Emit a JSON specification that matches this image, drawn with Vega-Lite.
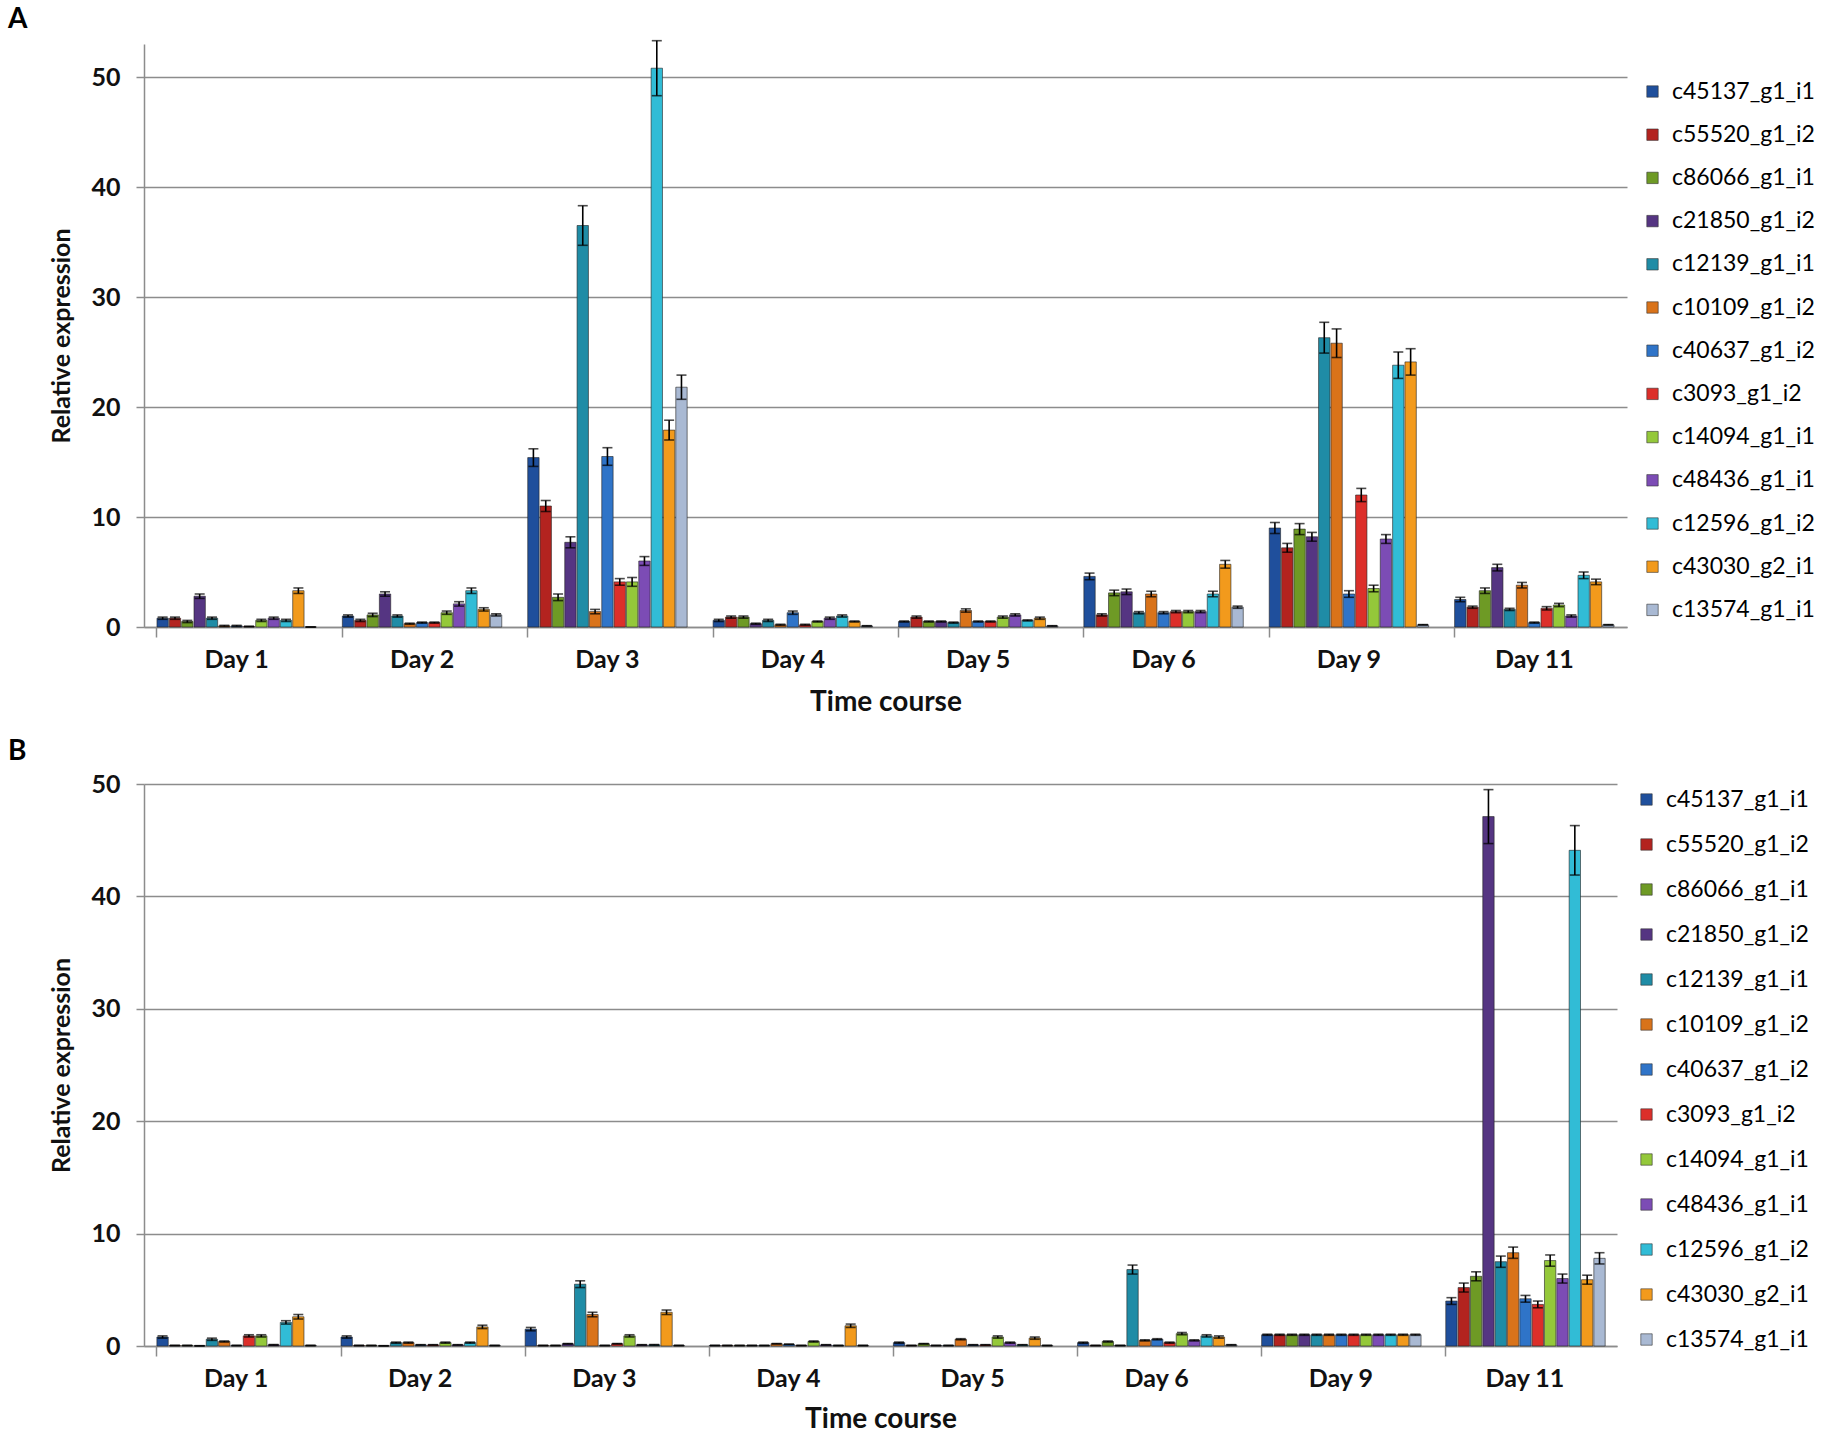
{
  "$schema": "https://vega.github.io/schema/vega-lite/v6.json",
  "background": "white",
  "padding": {"left": 7, "top": 5, "right": 0, "bottom": 5},
  "config": {
    "font": "Lato",
    "view": {"stroke": null},
    "axis": {"labelFont": "Lato", "titleFont": "Lato", "labelColor": "#111", "titleColor": "#111"},
    "legend": {"labelFont": "Lato"}
  },
  "datasets": {
    "A": [
      {"d": "Day 1", "g": "c45137_g1_i1", "v": 0.8, "e": 0.1},
      {"d": "Day 1", "g": "c55520_g1_i2", "v": 0.8, "e": 0.1},
      {"d": "Day 1", "g": "c86066_g1_i1", "v": 0.5, "e": 0.1},
      {"d": "Day 1", "g": "c21850_g1_i2", "v": 2.8, "e": 0.2},
      {"d": "Day 1", "g": "c12139_g1_i1", "v": 0.8, "e": 0.1},
      {"d": "Day 1", "g": "c10109_g1_i2", "v": 0.1, "e": 0.05},
      {"d": "Day 1", "g": "c40637_g1_i2", "v": 0.1, "e": 0.05},
      {"d": "Day 1", "g": "c3093_g1_i2", "v": 0.05, "e": 0.02},
      {"d": "Day 1", "g": "c14094_g1_i1", "v": 0.6, "e": 0.1},
      {"d": "Day 1", "g": "c48436_g1_i1", "v": 0.8, "e": 0.1},
      {"d": "Day 1", "g": "c12596_g1_i2", "v": 0.6, "e": 0.1},
      {"d": "Day 1", "g": "c43030_g2_i1", "v": 3.3, "e": 0.25},
      {"d": "Day 1", "g": "c13574_g1_i1", "v": 0, "e": 0},
      {"d": "Day 2", "g": "c45137_g1_i1", "v": 1.0, "e": 0.1},
      {"d": "Day 2", "g": "c55520_g1_i2", "v": 0.6, "e": 0.1},
      {"d": "Day 2", "g": "c86066_g1_i1", "v": 1.1, "e": 0.15},
      {"d": "Day 2", "g": "c21850_g1_i2", "v": 3.0, "e": 0.2},
      {"d": "Day 2", "g": "c12139_g1_i1", "v": 1.0, "e": 0.1},
      {"d": "Day 2", "g": "c10109_g1_i2", "v": 0.3, "e": 0.05},
      {"d": "Day 2", "g": "c40637_g1_i2", "v": 0.4, "e": 0.05},
      {"d": "Day 2", "g": "c3093_g1_i2", "v": 0.4, "e": 0.05},
      {"d": "Day 2", "g": "c14094_g1_i1", "v": 1.3, "e": 0.15},
      {"d": "Day 2", "g": "c48436_g1_i1", "v": 2.1, "e": 0.2},
      {"d": "Day 2", "g": "c12596_g1_i2", "v": 3.3, "e": 0.25},
      {"d": "Day 2", "g": "c43030_g2_i1", "v": 1.6, "e": 0.15},
      {"d": "Day 2", "g": "c13574_g1_i1", "v": 1.1, "e": 0.1},
      {"d": "Day 3", "g": "c45137_g1_i1", "v": 15.4, "e": 0.8},
      {"d": "Day 3", "g": "c55520_g1_i2", "v": 11.0, "e": 0.5},
      {"d": "Day 3", "g": "c86066_g1_i1", "v": 2.7, "e": 0.3},
      {"d": "Day 3", "g": "c21850_g1_i2", "v": 7.7, "e": 0.5},
      {"d": "Day 3", "g": "c12139_g1_i1", "v": 36.5, "e": 1.8},
      {"d": "Day 3", "g": "c10109_g1_i2", "v": 1.4, "e": 0.2},
      {"d": "Day 3", "g": "c40637_g1_i2", "v": 15.5, "e": 0.8},
      {"d": "Day 3", "g": "c3093_g1_i2", "v": 4.1, "e": 0.3},
      {"d": "Day 3", "g": "c14094_g1_i1", "v": 4.1, "e": 0.4},
      {"d": "Day 3", "g": "c48436_g1_i1", "v": 6.0, "e": 0.4},
      {"d": "Day 3", "g": "c12596_g1_i2", "v": 50.8, "e": 2.5},
      {"d": "Day 3", "g": "c43030_g2_i1", "v": 17.9, "e": 0.9},
      {"d": "Day 3", "g": "c13574_g1_i1", "v": 21.8, "e": 1.1},
      {"d": "Day 4", "g": "c45137_g1_i1", "v": 0.6, "e": 0.1},
      {"d": "Day 4", "g": "c55520_g1_i2", "v": 0.9, "e": 0.1},
      {"d": "Day 4", "g": "c86066_g1_i1", "v": 0.9, "e": 0.1},
      {"d": "Day 4", "g": "c21850_g1_i2", "v": 0.3, "e": 0.05},
      {"d": "Day 4", "g": "c12139_g1_i1", "v": 0.6, "e": 0.1},
      {"d": "Day 4", "g": "c10109_g1_i2", "v": 0.2, "e": 0.05},
      {"d": "Day 4", "g": "c40637_g1_i2", "v": 1.3, "e": 0.15},
      {"d": "Day 4", "g": "c3093_g1_i2", "v": 0.2, "e": 0.05},
      {"d": "Day 4", "g": "c14094_g1_i1", "v": 0.5, "e": 0.05},
      {"d": "Day 4", "g": "c48436_g1_i1", "v": 0.8, "e": 0.1},
      {"d": "Day 4", "g": "c12596_g1_i2", "v": 1.0, "e": 0.1},
      {"d": "Day 4", "g": "c43030_g2_i1", "v": 0.5, "e": 0.05},
      {"d": "Day 4", "g": "c13574_g1_i1", "v": 0.1, "e": 0.02},
      {"d": "Day 5", "g": "c45137_g1_i1", "v": 0.5, "e": 0.05},
      {"d": "Day 5", "g": "c55520_g1_i2", "v": 0.9, "e": 0.1},
      {"d": "Day 5", "g": "c86066_g1_i1", "v": 0.5, "e": 0.05},
      {"d": "Day 5", "g": "c21850_g1_i2", "v": 0.5, "e": 0.05},
      {"d": "Day 5", "g": "c12139_g1_i1", "v": 0.4, "e": 0.05},
      {"d": "Day 5", "g": "c10109_g1_i2", "v": 1.5, "e": 0.15},
      {"d": "Day 5", "g": "c40637_g1_i2", "v": 0.5, "e": 0.05},
      {"d": "Day 5", "g": "c3093_g1_i2", "v": 0.5, "e": 0.05},
      {"d": "Day 5", "g": "c14094_g1_i1", "v": 0.9, "e": 0.1},
      {"d": "Day 5", "g": "c48436_g1_i1", "v": 1.1, "e": 0.1},
      {"d": "Day 5", "g": "c12596_g1_i2", "v": 0.6, "e": 0.05},
      {"d": "Day 5", "g": "c43030_g2_i1", "v": 0.8, "e": 0.1},
      {"d": "Day 5", "g": "c13574_g1_i1", "v": 0.1, "e": 0.02},
      {"d": "Day 6", "g": "c45137_g1_i1", "v": 4.6, "e": 0.3},
      {"d": "Day 6", "g": "c55520_g1_i2", "v": 1.1, "e": 0.1},
      {"d": "Day 6", "g": "c86066_g1_i1", "v": 3.1, "e": 0.25},
      {"d": "Day 6", "g": "c21850_g1_i2", "v": 3.2, "e": 0.25},
      {"d": "Day 6", "g": "c12139_g1_i1", "v": 1.3, "e": 0.1},
      {"d": "Day 6", "g": "c10109_g1_i2", "v": 3.0, "e": 0.25},
      {"d": "Day 6", "g": "c40637_g1_i2", "v": 1.3, "e": 0.1},
      {"d": "Day 6", "g": "c3093_g1_i2", "v": 1.4, "e": 0.1},
      {"d": "Day 6", "g": "c14094_g1_i1", "v": 1.4, "e": 0.1},
      {"d": "Day 6", "g": "c48436_g1_i1", "v": 1.4, "e": 0.1},
      {"d": "Day 6", "g": "c12596_g1_i2", "v": 3.0, "e": 0.25},
      {"d": "Day 6", "g": "c43030_g2_i1", "v": 5.7, "e": 0.35},
      {"d": "Day 6", "g": "c13574_g1_i1", "v": 1.8, "e": 0.1},
      {"d": "Day 9", "g": "c45137_g1_i1", "v": 9.0, "e": 0.5},
      {"d": "Day 9", "g": "c55520_g1_i2", "v": 7.2, "e": 0.4},
      {"d": "Day 9", "g": "c86066_g1_i1", "v": 8.9, "e": 0.5},
      {"d": "Day 9", "g": "c21850_g1_i2", "v": 8.2, "e": 0.4},
      {"d": "Day 9", "g": "c12139_g1_i1", "v": 26.3, "e": 1.4},
      {"d": "Day 9", "g": "c10109_g1_i2", "v": 25.8, "e": 1.3},
      {"d": "Day 9", "g": "c40637_g1_i2", "v": 3.0, "e": 0.3},
      {"d": "Day 9", "g": "c3093_g1_i2", "v": 12.0, "e": 0.6},
      {"d": "Day 9", "g": "c14094_g1_i1", "v": 3.5, "e": 0.3},
      {"d": "Day 9", "g": "c48436_g1_i1", "v": 8.0, "e": 0.4},
      {"d": "Day 9", "g": "c12596_g1_i2", "v": 23.8, "e": 1.2},
      {"d": "Day 9", "g": "c43030_g2_i1", "v": 24.1, "e": 1.2},
      {"d": "Day 9", "g": "c13574_g1_i1", "v": 0.2, "e": 0.02},
      {"d": "Day 11", "g": "c45137_g1_i1", "v": 2.5, "e": 0.2},
      {"d": "Day 11", "g": "c55520_g1_i2", "v": 1.8, "e": 0.1},
      {"d": "Day 11", "g": "c86066_g1_i1", "v": 3.3, "e": 0.25},
      {"d": "Day 11", "g": "c21850_g1_i2", "v": 5.4, "e": 0.3},
      {"d": "Day 11", "g": "c12139_g1_i1", "v": 1.6, "e": 0.1},
      {"d": "Day 11", "g": "c10109_g1_i2", "v": 3.8, "e": 0.25},
      {"d": "Day 11", "g": "c40637_g1_i2", "v": 0.4, "e": 0.05},
      {"d": "Day 11", "g": "c3093_g1_i2", "v": 1.7, "e": 0.15},
      {"d": "Day 11", "g": "c14094_g1_i1", "v": 2.0, "e": 0.15},
      {"d": "Day 11", "g": "c48436_g1_i1", "v": 1.0, "e": 0.1},
      {"d": "Day 11", "g": "c12596_g1_i2", "v": 4.7, "e": 0.3},
      {"d": "Day 11", "g": "c43030_g2_i1", "v": 4.1, "e": 0.25},
      {"d": "Day 11", "g": "c13574_g1_i1", "v": 0.2, "e": 0.02}
    ],
    "B": [
      {"d": "Day 1", "g": "c45137_g1_i1", "v": 0.8, "e": 0.1},
      {"d": "Day 1", "g": "c55520_g1_i2", "v": 0.05, "e": 0.01},
      {"d": "Day 1", "g": "c86066_g1_i1", "v": 0.05, "e": 0.01},
      {"d": "Day 1", "g": "c21850_g1_i2", "v": 0.02, "e": 0.01},
      {"d": "Day 1", "g": "c12139_g1_i1", "v": 0.6, "e": 0.1},
      {"d": "Day 1", "g": "c10109_g1_i2", "v": 0.4, "e": 0.05},
      {"d": "Day 1", "g": "c40637_g1_i2", "v": 0.05, "e": 0.01},
      {"d": "Day 1", "g": "c3093_g1_i2", "v": 0.9, "e": 0.1},
      {"d": "Day 1", "g": "c14094_g1_i1", "v": 0.9, "e": 0.1},
      {"d": "Day 1", "g": "c48436_g1_i1", "v": 0.1, "e": 0.02},
      {"d": "Day 1", "g": "c12596_g1_i2", "v": 2.1, "e": 0.15},
      {"d": "Day 1", "g": "c43030_g2_i1", "v": 2.6, "e": 0.2},
      {"d": "Day 1", "g": "c13574_g1_i1", "v": 0.05, "e": 0.01},
      {"d": "Day 2", "g": "c45137_g1_i1", "v": 0.8, "e": 0.1},
      {"d": "Day 2", "g": "c55520_g1_i2", "v": 0.05, "e": 0.01},
      {"d": "Day 2", "g": "c86066_g1_i1", "v": 0.05, "e": 0.01},
      {"d": "Day 2", "g": "c21850_g1_i2", "v": 0.02, "e": 0.01},
      {"d": "Day 2", "g": "c12139_g1_i1", "v": 0.3, "e": 0.05},
      {"d": "Day 2", "g": "c10109_g1_i2", "v": 0.3, "e": 0.05},
      {"d": "Day 2", "g": "c40637_g1_i2", "v": 0.1, "e": 0.02},
      {"d": "Day 2", "g": "c3093_g1_i2", "v": 0.1, "e": 0.02},
      {"d": "Day 2", "g": "c14094_g1_i1", "v": 0.3, "e": 0.05},
      {"d": "Day 2", "g": "c48436_g1_i1", "v": 0.1, "e": 0.02},
      {"d": "Day 2", "g": "c12596_g1_i2", "v": 0.3, "e": 0.05},
      {"d": "Day 2", "g": "c43030_g2_i1", "v": 1.7, "e": 0.15},
      {"d": "Day 2", "g": "c13574_g1_i1", "v": 0.05, "e": 0.01},
      {"d": "Day 3", "g": "c45137_g1_i1", "v": 1.5, "e": 0.15},
      {"d": "Day 3", "g": "c55520_g1_i2", "v": 0.05, "e": 0.01},
      {"d": "Day 3", "g": "c86066_g1_i1", "v": 0.05, "e": 0.01},
      {"d": "Day 3", "g": "c21850_g1_i2", "v": 0.2, "e": 0.02},
      {"d": "Day 3", "g": "c12139_g1_i1", "v": 5.5, "e": 0.3},
      {"d": "Day 3", "g": "c10109_g1_i2", "v": 2.8, "e": 0.2},
      {"d": "Day 3", "g": "c40637_g1_i2", "v": 0.05, "e": 0.01},
      {"d": "Day 3", "g": "c3093_g1_i2", "v": 0.2, "e": 0.02},
      {"d": "Day 3", "g": "c14094_g1_i1", "v": 0.9, "e": 0.1},
      {"d": "Day 3", "g": "c48436_g1_i1", "v": 0.1, "e": 0.02},
      {"d": "Day 3", "g": "c12596_g1_i2", "v": 0.1, "e": 0.02},
      {"d": "Day 3", "g": "c43030_g2_i1", "v": 3.0, "e": 0.2},
      {"d": "Day 3", "g": "c13574_g1_i1", "v": 0.05, "e": 0.01},
      {"d": "Day 4", "g": "c45137_g1_i1", "v": 0.05, "e": 0.01},
      {"d": "Day 4", "g": "c55520_g1_i2", "v": 0.05, "e": 0.01},
      {"d": "Day 4", "g": "c86066_g1_i1", "v": 0.05, "e": 0.01},
      {"d": "Day 4", "g": "c21850_g1_i2", "v": 0.05, "e": 0.01},
      {"d": "Day 4", "g": "c12139_g1_i1", "v": 0.05, "e": 0.01},
      {"d": "Day 4", "g": "c10109_g1_i2", "v": 0.2, "e": 0.02},
      {"d": "Day 4", "g": "c40637_g1_i2", "v": 0.15, "e": 0.02},
      {"d": "Day 4", "g": "c3093_g1_i2", "v": 0.05, "e": 0.01},
      {"d": "Day 4", "g": "c14094_g1_i1", "v": 0.4, "e": 0.05},
      {"d": "Day 4", "g": "c48436_g1_i1", "v": 0.1, "e": 0.02},
      {"d": "Day 4", "g": "c12596_g1_i2", "v": 0.05, "e": 0.01},
      {"d": "Day 4", "g": "c43030_g2_i1", "v": 1.8, "e": 0.15},
      {"d": "Day 4", "g": "c13574_g1_i1", "v": 0.05, "e": 0.01},
      {"d": "Day 5", "g": "c45137_g1_i1", "v": 0.3, "e": 0.05},
      {"d": "Day 5", "g": "c55520_g1_i2", "v": 0.05, "e": 0.01},
      {"d": "Day 5", "g": "c86066_g1_i1", "v": 0.2, "e": 0.02},
      {"d": "Day 5", "g": "c21850_g1_i2", "v": 0.05, "e": 0.01},
      {"d": "Day 5", "g": "c12139_g1_i1", "v": 0.05, "e": 0.01},
      {"d": "Day 5", "g": "c10109_g1_i2", "v": 0.6, "e": 0.05},
      {"d": "Day 5", "g": "c40637_g1_i2", "v": 0.1, "e": 0.02},
      {"d": "Day 5", "g": "c3093_g1_i2", "v": 0.1, "e": 0.02},
      {"d": "Day 5", "g": "c14094_g1_i1", "v": 0.8, "e": 0.1},
      {"d": "Day 5", "g": "c48436_g1_i1", "v": 0.3, "e": 0.05},
      {"d": "Day 5", "g": "c12596_g1_i2", "v": 0.1, "e": 0.02},
      {"d": "Day 5", "g": "c43030_g2_i1", "v": 0.7, "e": 0.1},
      {"d": "Day 5", "g": "c13574_g1_i1", "v": 0.05, "e": 0.01},
      {"d": "Day 6", "g": "c45137_g1_i1", "v": 0.3, "e": 0.05},
      {"d": "Day 6", "g": "c55520_g1_i2", "v": 0.05, "e": 0.01},
      {"d": "Day 6", "g": "c86066_g1_i1", "v": 0.4, "e": 0.05},
      {"d": "Day 6", "g": "c21850_g1_i2", "v": 0.05, "e": 0.01},
      {"d": "Day 6", "g": "c12139_g1_i1", "v": 6.8, "e": 0.4},
      {"d": "Day 6", "g": "c10109_g1_i2", "v": 0.5, "e": 0.05},
      {"d": "Day 6", "g": "c40637_g1_i2", "v": 0.6, "e": 0.05},
      {"d": "Day 6", "g": "c3093_g1_i2", "v": 0.3, "e": 0.05},
      {"d": "Day 6", "g": "c14094_g1_i1", "v": 1.1, "e": 0.1},
      {"d": "Day 6", "g": "c48436_g1_i1", "v": 0.5, "e": 0.05},
      {"d": "Day 6", "g": "c12596_g1_i2", "v": 0.9, "e": 0.1},
      {"d": "Day 6", "g": "c43030_g2_i1", "v": 0.8, "e": 0.1},
      {"d": "Day 6", "g": "c13574_g1_i1", "v": 0.1, "e": 0.02},
      {"d": "Day 9", "g": "c45137_g1_i1", "v": 1.0, "e": 0.05},
      {"d": "Day 9", "g": "c55520_g1_i2", "v": 1.0, "e": 0.05},
      {"d": "Day 9", "g": "c86066_g1_i1", "v": 1.0, "e": 0.05},
      {"d": "Day 9", "g": "c21850_g1_i2", "v": 1.0, "e": 0.05},
      {"d": "Day 9", "g": "c12139_g1_i1", "v": 1.0, "e": 0.05},
      {"d": "Day 9", "g": "c10109_g1_i2", "v": 1.0, "e": 0.05},
      {"d": "Day 9", "g": "c40637_g1_i2", "v": 1.0, "e": 0.05},
      {"d": "Day 9", "g": "c3093_g1_i2", "v": 1.0, "e": 0.05},
      {"d": "Day 9", "g": "c14094_g1_i1", "v": 1.0, "e": 0.05},
      {"d": "Day 9", "g": "c48436_g1_i1", "v": 1.0, "e": 0.05},
      {"d": "Day 9", "g": "c12596_g1_i2", "v": 1.0, "e": 0.05},
      {"d": "Day 9", "g": "c43030_g2_i1", "v": 1.0, "e": 0.05},
      {"d": "Day 9", "g": "c13574_g1_i1", "v": 1.0, "e": 0.05},
      {"d": "Day 11", "g": "c45137_g1_i1", "v": 4.0, "e": 0.3},
      {"d": "Day 11", "g": "c55520_g1_i2", "v": 5.2, "e": 0.4},
      {"d": "Day 11", "g": "c86066_g1_i1", "v": 6.2, "e": 0.4},
      {"d": "Day 11", "g": "c21850_g1_i2", "v": 47.1, "e": 2.4},
      {"d": "Day 11", "g": "c12139_g1_i1", "v": 7.5, "e": 0.5},
      {"d": "Day 11", "g": "c10109_g1_i2", "v": 8.3, "e": 0.5},
      {"d": "Day 11", "g": "c40637_g1_i2", "v": 4.2, "e": 0.3},
      {"d": "Day 11", "g": "c3093_g1_i2", "v": 3.7, "e": 0.3},
      {"d": "Day 11", "g": "c14094_g1_i1", "v": 7.6, "e": 0.5},
      {"d": "Day 11", "g": "c48436_g1_i1", "v": 6.0, "e": 0.4},
      {"d": "Day 11", "g": "c12596_g1_i2", "v": 44.1, "e": 2.2},
      {"d": "Day 11", "g": "c43030_g2_i1", "v": 5.9, "e": 0.4},
      {"d": "Day 11", "g": "c13574_g1_i1", "v": 7.8, "e": 0.5}
    ]
  },
  "vconcat": [
    {
      "title": {"text": "A", "anchor": "start", "frame": "bounds", "fontSize": 28, "fontWeight": "bold", "offset": 6, "dx": -42},
      "width": 1483,
      "height": 583,
      "data": {"name": "A"},
      "encoding": {
        "x": {
          "field": "d", "type": "nominal",
          "sort": ["Day 1", "Day 2", "Day 3", "Day 4", "Day 5", "Day 6", "Day 9", "Day 11"],
          "scale": {"paddingInner": 0.14, "paddingOuter": 0.07},
          "axis": {"title": "Time course", "labelAngle": 0, "labelFontSize": 25, "labelFontWeight": "bold", "titleFontSize": 28, "titleFontWeight": "bold", "bandPosition": 0, "tickSize": 10, "tickColor": "#8c8c8c", "tickWidth": 1.5, "domainColor": "#8c8c8c", "domainWidth": 1.5, "labelPadding": 10, "titlePadding": 16}
        },
        "xOffset": {
          "field": "g", "type": "nominal",
          "sort": ["c45137_g1_i1", "c55520_g1_i2", "c86066_g1_i1", "c21850_g1_i2", "c12139_g1_i1", "c10109_g1_i2", "c40637_g1_i2", "c3093_g1_i2", "c14094_g1_i1", "c48436_g1_i1", "c12596_g1_i2", "c43030_g2_i1", "c13574_g1_i1"],
          "scale": {"paddingInner": 0.08}
        }
      },
      "layer": [
        {
          "mark": {"type": "bar", "stroke": "#222", "strokeWidth": 0.6},
          "encoding": {
            "y": {
              "field": "v", "type": "quantitative", "title": "Relative expression",
              "scale": {"domain": [0, 53], "nice": false},
              "axis": {"values": [0, 10, 20, 30, 40, 50], "labelFontSize": 25, "labelFontWeight": "bold", "titleFontSize": 25, "titleFontWeight": "bold", "grid": true, "gridColor": "#8c8c8c", "gridWidth": 1.5, "tickSize": 8, "tickColor": "#8c8c8c", "tickWidth": 1.5, "domainColor": "#8c8c8c", "domainWidth": 1.5, "labelPadding": 16, "titlePadding": 16}
            },
            "color": {
              "field": "g", "type": "nominal",
              "scale": {
                "domain": ["c45137_g1_i1", "c55520_g1_i2", "c86066_g1_i1", "c21850_g1_i2", "c12139_g1_i1", "c10109_g1_i2", "c40637_g1_i2", "c3093_g1_i2", "c14094_g1_i1", "c48436_g1_i1", "c12596_g1_i2", "c43030_g2_i1", "c13574_g1_i1"],
                "range": ["#1f4f9c", "#b3231f", "#6e9a25", "#553582", "#1f8ca6", "#d9731a", "#2f74c8", "#dc2f2a", "#94c83a", "#7c4cb5", "#31bcd6", "#f29a1c", "#a9b9d3"]
              },
              "legend": {"title": null, "orient": "none", "legendX": 1497, "legendY": 36, "labelFontSize": 23, "symbolType": "square", "symbolSize": 130, "symbolStrokeColor": "#333", "symbolStrokeWidth": 0.6, "rowPadding": 19.2, "labelOffset": 8}
            }
          }
        },
        {
          "mark": {"type": "errorbar", "ticks": {"size": 10, "thickness": 1.6, "color": "black"}, "thickness": 1.6, "color": "black"},
          "encoding": {
            "y": {"field": "v", "type": "quantitative", "title": "Relative expression"},
            "yError": {"field": "e"}
          }
        }
      ]
    },
    {
      "title": {"text": "B", "anchor": "start", "frame": "bounds", "fontSize": 28, "fontWeight": "bold", "offset": 6, "dx": -42},
      "width": 1473,
      "height": 562,
      "data": {"name": "B"},
      "encoding": {
        "x": {
          "field": "d", "type": "nominal",
          "sort": ["Day 1", "Day 2", "Day 3", "Day 4", "Day 5", "Day 6", "Day 9", "Day 11"],
          "scale": {"paddingInner": 0.14, "paddingOuter": 0.07},
          "axis": {"title": "Time course", "labelAngle": 0, "labelFontSize": 25, "labelFontWeight": "bold", "titleFontSize": 28, "titleFontWeight": "bold", "bandPosition": 0, "tickSize": 10, "tickColor": "#8c8c8c", "tickWidth": 1.5, "domainColor": "#8c8c8c", "domainWidth": 1.5, "labelPadding": 10, "titlePadding": 14}
        },
        "xOffset": {
          "field": "g", "type": "nominal",
          "sort": ["c45137_g1_i1", "c55520_g1_i2", "c86066_g1_i1", "c21850_g1_i2", "c12139_g1_i1", "c10109_g1_i2", "c40637_g1_i2", "c3093_g1_i2", "c14094_g1_i1", "c48436_g1_i1", "c12596_g1_i2", "c43030_g2_i1", "c13574_g1_i1"],
          "scale": {"paddingInner": 0.08}
        }
      },
      "layer": [
        {
          "mark": {"type": "bar", "stroke": "#222", "strokeWidth": 0.6},
          "encoding": {
            "y": {
              "field": "v", "type": "quantitative", "title": "Relative expression",
              "scale": {"domain": [0, 50], "nice": false},
              "axis": {"values": [0, 10, 20, 30, 40, 50], "labelFontSize": 25, "labelFontWeight": "bold", "titleFontSize": 25, "titleFontWeight": "bold", "grid": true, "gridColor": "#8c8c8c", "gridWidth": 1.5, "tickSize": 8, "tickColor": "#8c8c8c", "tickWidth": 1.5, "domainColor": "#8c8c8c", "domainWidth": 1.5, "labelPadding": 16, "titlePadding": 16}
            },
            "color": {
              "field": "g", "type": "nominal",
              "scale": {
                "domain": ["c45137_g1_i1", "c55520_g1_i2", "c86066_g1_i1", "c21850_g1_i2", "c12139_g1_i1", "c10109_g1_i2", "c40637_g1_i2", "c3093_g1_i2", "c14094_g1_i1", "c48436_g1_i1", "c12596_g1_i2", "c43030_g2_i1", "c13574_g1_i1"],
                "range": ["#1f4f9c", "#b3231f", "#6e9a25", "#553582", "#1f8ca6", "#d9731a", "#2f74c8", "#dc2f2a", "#94c83a", "#7c4cb5", "#31bcd6", "#f29a1c", "#a9b9d3"]
              },
              "legend": {"title": null, "orient": "none", "legendX": 1491, "legendY": 4, "labelFontSize": 23, "symbolType": "square", "symbolSize": 130, "symbolStrokeColor": "#333", "symbolStrokeWidth": 0.6, "rowPadding": 21, "labelOffset": 8}
            }
          }
        },
        {
          "mark": {"type": "errorbar", "ticks": {"size": 10, "thickness": 1.6, "color": "black"}, "thickness": 1.6, "color": "black"},
          "encoding": {
            "y": {"field": "v", "type": "quantitative", "title": "Relative expression"},
            "yError": {"field": "e"}
          }
        }
      ]
    }
  ],
  "spacing": 22,
  "resolve": {"scale": {"color": "independent"}, "legend": {"color": "independent"}}
}
